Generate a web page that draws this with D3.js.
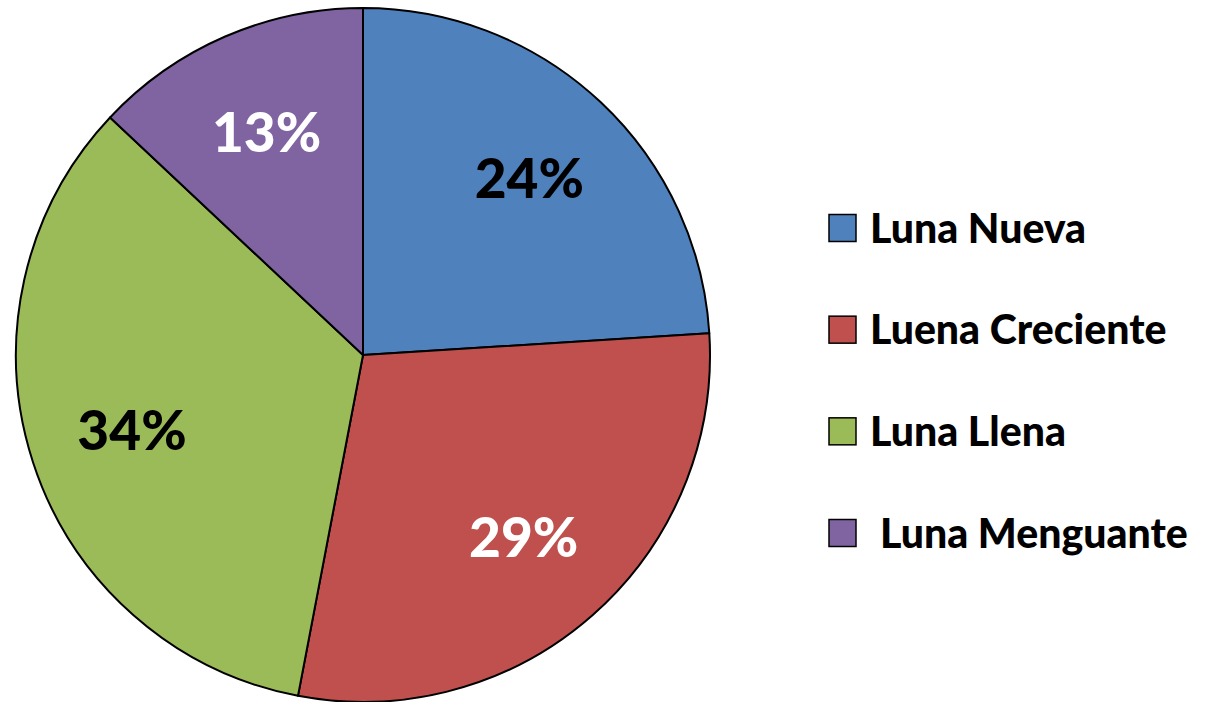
<!DOCTYPE html>
<html>
<head>
<meta charset="utf-8">
<script src="https://cdn.jsdelivr.net/npm/d3@7.9.0/dist/d3.min.js"></script>
<style>
  body { margin: 0; background: #fff; }
  svg { display: block; font-family: Lato, "Open Sans", sans-serif; font-weight: 900; }
</style>
</head>
<body>
<svg id="chart" width="1231" height="702"></svg>
<script>
// data
const phases = ['Luna Nueva', 'Luena Creciente', 'Luna Llena', 'Luna Menguante'];
const shares = [24, 29, 34, 13];
const sliceColors = ['#4F81BD', '#C0504D', '#9BBB59', '#8064A2'];
const labelColors = ['#000', '#fff', '#000', '#fff'];

const width = 1231, height = 702;
const cx = 363, cy = 355, radius = 347;

const svg = d3.select('#chart');
const rows = phases.map((name, i) => ({ name, value: shares[i], i }));

const pie = d3.pie().value(d => d.value).sort(null);
const arc = d3.arc().innerRadius(0).outerRadius(radius);
const labelArc = d3.arc().innerRadius(radius * 0.7).outerRadius(radius * 0.7);

const g = svg.append('g').attr('transform', `translate(${cx},${cy})`);
const arcs = pie(rows);

g.selectAll('path')
  .data(arcs)
  .join('path')
  .attr('d', arc)
  .attr('fill', d => sliceColors[d.data.i])
  .attr('stroke', '#000')
  .attr('stroke-width', 2)
  .attr('stroke-linejoin', 'round');

g.selectAll('text')
  .data(arcs)
  .join('text')
  .attr('transform', d => `translate(${labelArc.centroid(d)})`)
  .attr('text-anchor', 'middle')
  .attr('dy', '0.36em')
  .attr('font-size', 55)
  .attr('fill', d => labelColors[d.data.i])
  .text(d => d.data.value + '%');

// legend
const legendY = d3.scalePoint().domain(phases).range([228, 533]);
const legend = svg.append('g');
const item = legend.selectAll('g')
  .data(rows)
  .join('g')
  .attr('transform', d => `translate(829,${legendY(d.name)})`);

item.append('rect')
  .attr('x', 0)
  .attr('y', -13.5)
  .attr('width', 27)
  .attr('height', 27)
  .attr('fill', d => sliceColors[d.i])
  .attr('stroke', '#000')
  .attr('stroke-width', 1.5);

item.append('text')
  .attr('x', d => d.i === 3 ? 51 : 41)
  .attr('dy', '0.36em')
  .attr('font-size', 41)
  .attr('fill', '#000')
  .text(d => d.name);
</script>
</body>
</html>
